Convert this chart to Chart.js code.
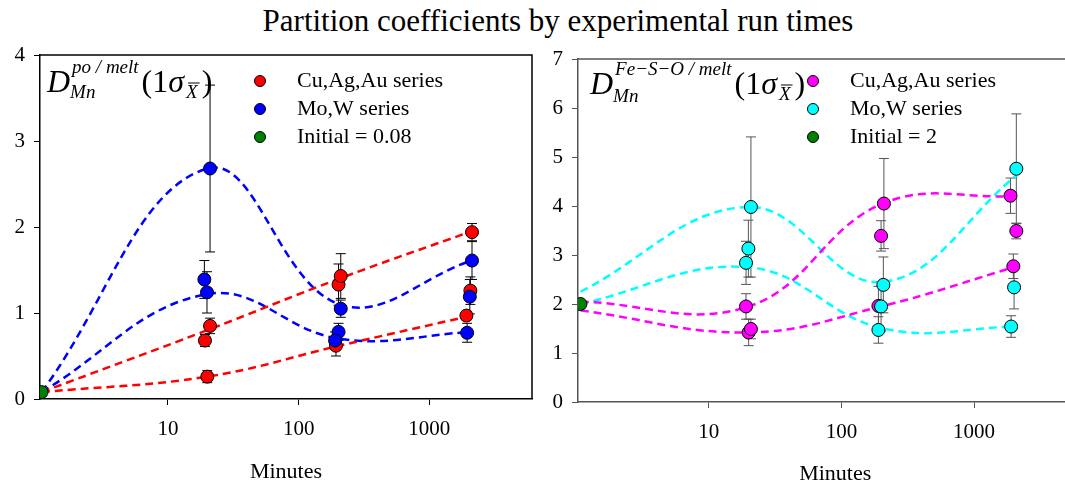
<!DOCTYPE html>
<html>
<head>
<meta charset="utf-8">
<script src="https://cdn.jsdelivr.net/npm/chart.js@4.4.1/dist/chart.umd.min.js"></script>
<style>
  body { margin: 0; background: #fff; overflow: hidden; width: 1065px; height: 487px; position: relative; }
  #titulo { position: absolute; left: 0; top: 4px; width: 1116px; text-align: center;
    font: 31px "Liberation Serif", serif; line-height: 34px; color: #000; }
  .panel { position: absolute; top: 0; height: 487px; }
  #panelIzq { left: 0; width: 540px; }
  #panelDer { left: 540px; width: 560px; }
</style>
</head>
<body>
<div id="titulo">Partition coefficients by experimental run times</div>
<div class="panel" id="panelIzq"><canvas id="graficaPo"></canvas></div>
<div class="panel" id="panelDer"><canvas id="graficaFeSO"></canvas></div>
<script>
// ticks
const xTicks = [10, 100, 1000];

// panel izquierdo: D(po/melt)
const poCuX   = [19.2, 21.0, 20.0, 202, 210, 193, 2120, 2060, 1920];
const poCuY   = [0.68, 0.85, 0.26, 1.33, 1.43, 0.62, 1.94, 1.26, 0.97];
const poCuErr = [0.07, 0.09, 0.07, 0.24, 0.26, 0.12, 0.10, 0.16, 0.05];
const poMoX   = [21.0, 19.0, 19.9, 210, 202, 190, 2120, 2040, 1945];
const poMoY   = [2.68, 1.39, 1.24, 1.05, 0.78, 0.68, 1.61, 1.19, 0.77];
const poMoErr = [0.97, 0.22, 0.24, 0.10, 0.10, 0.10, 0.22, 0.20, 0.11];
const poInicial = [1.08, 0.08];
const curvaX = [1.08, 20, 205, 2100];
const poCuCurvaA = [0.08, 0.80, 1.40, 1.95];
const poCuCurvaB = [0.08, 0.26, 0.62, 0.97];
const poMoCurvaA = [0.08, 2.68, 1.10, 1.61];
const poMoCurvaB = [0.08, 1.22, 0.70, 0.78];

// panel derecho: D(Fe-S-O/melt)
const fsCuX   = [19.1, 20.0, 20.8, 199, 209, 190, 1880, 2080, 1975];
const fsCuY   = [1.95, 1.42, 1.49, 3.39, 4.05, 1.96, 4.21, 3.49, 2.77];
const fsCuErr = [0.26, 0.27, 0.20, 0.31, 0.92, 0.40, 0.36, 0.16, 0.25];
const fsMoX   = [20.8, 19.9, 19.1, 207, 199, 190, 2080, 2000, 1900];
const fsMoY   = [3.98, 3.13, 2.84, 2.39, 1.95, 1.47, 4.76, 2.34, 1.54];
const fsMoErr = [1.43, 0.58, 0.44, 0.57, 0.50, 0.27, 1.12, 0.44, 0.22];
const fsInicial = [1.08, 2.0];
const fsCuCurvaA = [2.05, 1.95, 4.05, 4.20];
const fsCuCurvaB = [1.87, 1.42, 1.96, 2.77];
const fsMoCurvaA = [2.25, 3.98, 2.45, 4.63];
const fsMoCurvaB = [2.00, 2.75, 1.50, 1.54];

const FUENTE = '"Liberation Serif", serif';
Chart.defaults.font.family = FUENTE;
Chart.defaults.color = '#000';

function puntos(xs, ys) {
  return xs.map((x, i) => ({ x: x, y: ys[i] }));
}

function serie(label, xs, ys, errs, color, orden) {
  return {
    label: label, data: puntos(xs, ys), errores: errs,
    backgroundColor: color, borderColor: '#000', borderWidth: 1,
    pointRadius: 6.5, showLine: false, order: orden, enLeyenda: true
  };
}

function curva(ys, color) {
  return {
    data: puntos(curvaX, ys), showLine: true, tension: 0.4,
    borderColor: color, borderWidth: 2.5, borderDash: [8, 5],
    pointRadius: 0, fill: false, order: 3
  };
}

// barras de error (debajo de todo)
const barrasError = {
  id: 'barrasError',
  beforeDatasetsDraw(chart) {
    const ctx = chart.ctx;
    const y = chart.scales.y;
    ctx.save();
    ctx.strokeStyle = chart.options.colorEje;
    ctx.lineWidth = 1;
    chart.data.datasets.forEach((ds, i) => {
      if (!ds.errores) return;
      const meta = chart.getDatasetMeta(i);
      meta.data.forEach((p, j) => {
        const v = ds.data[j].y, e = ds.errores[j];
        const y1 = y.getPixelForValue(v + e), y2 = y.getPixelForValue(v - e);
        ctx.beginPath();
        ctx.moveTo(p.x, y1); ctx.lineTo(p.x, y2);
        ctx.moveTo(p.x - 5, y1); ctx.lineTo(p.x + 5, y1);
        ctx.moveTo(p.x - 5, y2); ctx.lineTo(p.x + 5, y2);
        ctx.stroke();
      });
    });
    ctx.restore();
  }
};

// leyenda, etiqueta D y marco
const extras = {
  id: 'extras',
  afterDraw(chart) {
    const ctx = chart.ctx;
    const area = chart.chartArea;
    const op = chart.options;
    ctx.save();
    // marco
    ctx.strokeStyle = op.colorEje;
    ctx.lineWidth = 1.5;
    ctx.beginPath();
    ctx.moveTo(area.left, area.top); ctx.lineTo(area.right, area.top);
    if (op.marcoDerecho) ctx.lineTo(area.right, area.bottom);
    ctx.stroke();

    // leyenda
    const items = chart.data.datasets.filter(d => d.enLeyenda);
    ctx.textBaseline = 'middle';
    ctx.font = '22px ' + FUENTE;
    items.forEach((d, i) => {
      const ly = area.top + op.leyenda.top + i * 28;
      ctx.beginPath();
      ctx.arc(area.left + op.leyenda.marca, ly, 5.5, 0, Math.PI * 2);
      ctx.fillStyle = d.backgroundColor; ctx.fill();
      ctx.strokeStyle = '#000'; ctx.lineWidth = 1; ctx.stroke();
      ctx.fillStyle = '#000';
      ctx.fillText(d.label, area.left + op.leyenda.texto, ly);
    });

    // etiqueta D
    const e = op.etiqueta;
    let x = e.x, y = e.y;
    ctx.textBaseline = 'alphabetic';
    ctx.fillStyle = '#000';
    ctx.font = 'italic 32px ' + FUENTE;
    ctx.fillText('D', x, y);
    const dW = ctx.measureText('D').width;
    ctx.font = 'italic 19px ' + FUENTE;
    ctx.fillText(e.sup, x + dW + 2, y - 19);
    ctx.fillText('Mn', x + dW, y + e.sub);
    let cx = x + dW + 2 + Math.max(ctx.measureText(e.sup).width, ctx.measureText('Mn').width) + 3;
    ctx.font = '32px ' + FUENTE;
    ctx.fillText('(1', cx, y);
    cx += ctx.measureText('(1').width;
    ctx.font = 'italic 32px ' + FUENTE;
    ctx.fillText('σ', cx, y);
    cx += ctx.measureText('σ').width + 2;
    ctx.font = 'italic 19px ' + FUENTE;
    ctx.fillText('X', cx, y + 6);
    const xw = ctx.measureText('X').width;
    ctx.strokeStyle = '#000'; ctx.lineWidth = 1;
    ctx.beginPath(); ctx.moveTo(cx + 2, y - 9); ctx.lineTo(cx + xw + 2, y - 9); ctx.stroke();
    cx += xw + 4;
    ctx.font = '32px ' + FUENTE;
    ctx.fillText(')', cx, y);
    ctx.restore();
  }
};

function crearGrafica(id, cfg) {
  const ctx = document.getElementById(id).getContext('2d');
  return new Chart(ctx, {
    type: 'scatter',
    data: { datasets: cfg.datasets },
    options: {
      responsive: true,
      maintainAspectRatio: false,
      animation: false,
      colorEje: cfg.colorEje,
      marcoDerecho: cfg.marcoDerecho,
      leyenda: cfg.leyenda,
      etiqueta: cfg.etiqueta,
      layout: { padding: cfg.padding },
      plugins: { legend: { display: false }, tooltip: { enabled: false } },
      scales: {
        x: {
          type: 'logarithmic',
          min: cfg.xMin, max: cfg.xMax,
          afterBuildTicks: (s) => { s.ticks = xTicks.map(v => ({ value: v })); },
          afterFit: (s) => { s.height = cfg.altoX; },
          ticks: { font: { size: 21 }, padding: 12, autoSkip: false, maxRotation: 0,
                   callback: (v) => String(v) },
          grid: { drawOnChartArea: false, drawTicks: true, tickLength: 6, color: cfg.colorEje },
          border: { color: cfg.colorEje, width: 1.5 },
          title: { display: true, text: 'Minutes', font: { size: 22 }, padding: { top: 0, bottom: cfg.tituloAbajo } }
        },
        y: {
          min: 0, max: cfg.yMax,
          afterFit: (s) => { s.width = cfg.anchoY; },
          ticks: { stepSize: 1, font: { size: 21 }, padding: 9 },
          grid: { drawOnChartArea: false, drawTicks: true, tickLength: 6, color: cfg.colorEje },
          border: { color: cfg.colorEje, width: 1.5 }
        }
      }
    },
    plugins: [barrasError, extras]
  });
}

const graficas = [];

graficas.push(crearGrafica('graficaPo', {
  datasets: [
    { label: 'Initial = 0.08', data: [{ x: poInicial[0], y: poInicial[1] }], backgroundColor: '#008000',
      borderColor: '#000', borderWidth: 1, pointRadius: 6.5, order: 0 },
    serie('Cu,Ag,Au series', poCuX, poCuY, poCuErr, '#ff0000', 2),
    serie('Mo,W series', poMoX, poMoY, poMoErr, '#0000ff', 1),
    curva(poCuCurvaA, '#ff0000'),
    curva(poCuCurvaB, '#ff0000'),
    curva(poMoCurvaA, '#0000ff'),
    curva(poMoCurvaB, '#0000ff')
  ],
  xMin: 1.05, xMax: 6100, yMax: 4,
  padding: { top: 55, right: 8, left: 0, bottom: 0 },
  anchoY: 40, altoX: 88, tituloAbajo: 2,
  colorEje: '#000', marcoDerecho: true,
  leyenda: { top: 26, marca: 220, texto: 257 },
  etiqueta: { x: 47, y: 92, sup: 'po / melt', sub: 6 }
}));

graficas.push(crearGrafica('graficaFeSO', {
  datasets: [
    { label: 'Initial = 2', data: [{ x: fsInicial[0], y: fsInicial[1] }], backgroundColor: '#008000',
      borderColor: '#000', borderWidth: 1, pointRadius: 6.5, order: 0 },
    serie('Cu,Ag,Au series', fsCuX, fsCuY, fsCuErr, '#ff00ff', 2),
    serie('Mo,W series', fsMoX, fsMoY, fsMoErr, '#00ffff', 1),
    curva(fsCuCurvaA, '#ff00ff'),
    curva(fsCuCurvaB, '#ff00ff'),
    curva(fsMoCurvaA, '#00ffff'),
    curva(fsMoCurvaB, '#00ffff')
  ],
  xMin: 1.035, xMax: 7800, yMax: 7,
  padding: { top: 59, right: 0, left: 0, bottom: 0 },
  anchoY: 38, altoX: 85, tituloAbajo: 0,
  colorEje: '#555', marcoDerecho: false,
  leyenda: { top: 22, marca: 235, texto: 272 },
  etiqueta: { x: 50, y: 94, sup: 'Fe\u2212S\u2212O / melt', sub: 8 }
}));

// la leyenda va en orden Cu, Mo, Initial
graficas.forEach(ch => {
  const ds = ch.data.datasets;
  ds[0].enLeyenda = false;
  ds.push(Object.assign({}, ds[0], { data: [], enLeyenda: true, order: 9 }));
  ch.update('none');
});
</script>
</body>
</html>
